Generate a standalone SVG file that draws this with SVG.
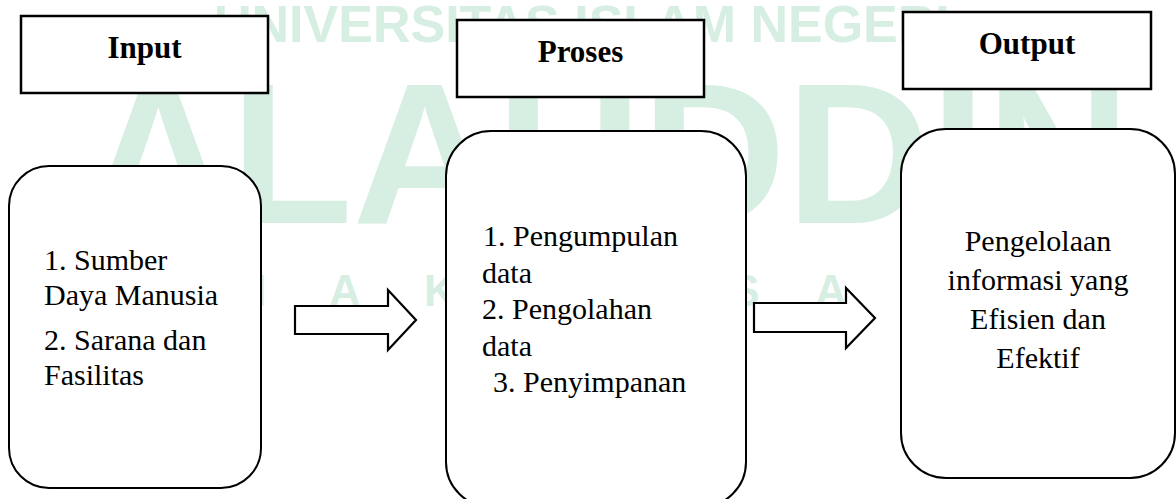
<svg xmlns="http://www.w3.org/2000/svg" width="1176" height="499" viewBox="0 0 1176 499">
  <style>
    .wm { font-family: "Liberation Sans", Arial, sans-serif; font-weight: bold; fill: #d7eee2; }
    .head { fill: #fff; stroke: #000; stroke-width: 2.5; }
    .card { fill: #fff; stroke: #000; stroke-width: 2; }
    .title { font-family: "Liberation Serif", "Times New Roman", serif; font-weight: bold; font-size: 31px; fill: #000; text-anchor: middle; }
    .body { font-family: "Liberation Serif", "Times New Roman", serif; font-size: 30px; fill: #000; }
    .mid { text-anchor: middle; }
    .flow { fill: #fff; stroke: #000; stroke-width: 2.2; stroke-linejoin: miter; }
  </style>

  <!-- background watermark -->
  <g id="watermark">
    <text class="wm" x="214" y="42" font-size="52">UNIVERSITAS ISLAM NEGERI</text>
    <text class="wm" x="86" y="223" font-size="200">ALAUDDIN</text>
    <g font-size="44" text-anchor="middle">
      <text class="wm" x="248" y="306">M</text>
      <text class="wm" x="345" y="306">A</text>
      <text class="wm" x="440" y="306">K</text>
      <text class="wm" x="540" y="306">A</text>
      <text class="wm" x="640" y="306">S</text>
      <text class="wm" x="745" y="306">S</text>
      <text class="wm" x="831" y="306">A</text>
      <text class="wm" x="925" y="306">R</text>
    </g>
  </g>

  <!-- column headers -->
  <g id="head-input">
    <rect class="head" x="21" y="16" width="247" height="77"/>
    <text class="title" x="144.5" y="58">Input</text>
  </g>
  <g id="head-proses">
    <rect class="head" x="457" y="20" width="247" height="77"/>
    <text class="title" x="580.5" y="62">Proses</text>
  </g>
  <g id="head-output">
    <rect class="head" x="903" y="12" width="248" height="77"/>
    <text class="title" x="1027" y="54">Output</text>
  </g>

  <!-- content cards -->
  <g id="card-input">
    <rect class="card" x="9" y="166" width="252" height="322" rx="40" ry="40"/>
    <text class="body" x="44" y="270">1. Sumber</text>
    <text class="body" x="44" y="304.5">Daya Manusia</text>
    <text class="body" x="44" y="349.5">2. Sarana dan</text>
    <text class="body" x="44" y="384.5">Fasilitas</text>
  </g>
  <g id="card-proses">
    <rect class="card" x="446" y="131" width="300" height="376" rx="45" ry="45"/>
    <text class="body" x="483" y="246">1. Pengumpulan</text>
    <text class="body" x="482" y="282.5">data</text>
    <text class="body" x="482" y="319">2. Pengolahan</text>
    <text class="body" x="482" y="355.5">data</text>
    <text class="body" x="493" y="392">3. Penyimpanan</text>
  </g>
  <g id="card-output">
    <rect class="card" x="901" y="129" width="274" height="349" rx="45" ry="45"/>
    <text class="body mid" x="1038" y="251">Pengelolaan</text>
    <text class="body mid" x="1038" y="290">informasi yang</text>
    <text class="body mid" x="1038" y="329">Efisien dan</text>
    <text class="body mid" x="1038" y="367.5">Efektif</text>
  </g>

  <!-- block arrows between stages -->
  <g id="connectors">
    <polygon class="flow" points="295,306 388,306 388,290 416,320 388,350 388,334 295,334"/>
    <polygon class="flow" points="754,303 846,303 846,288 875,318 846,348 846,332 754,332"/>
  </g>
</svg>
